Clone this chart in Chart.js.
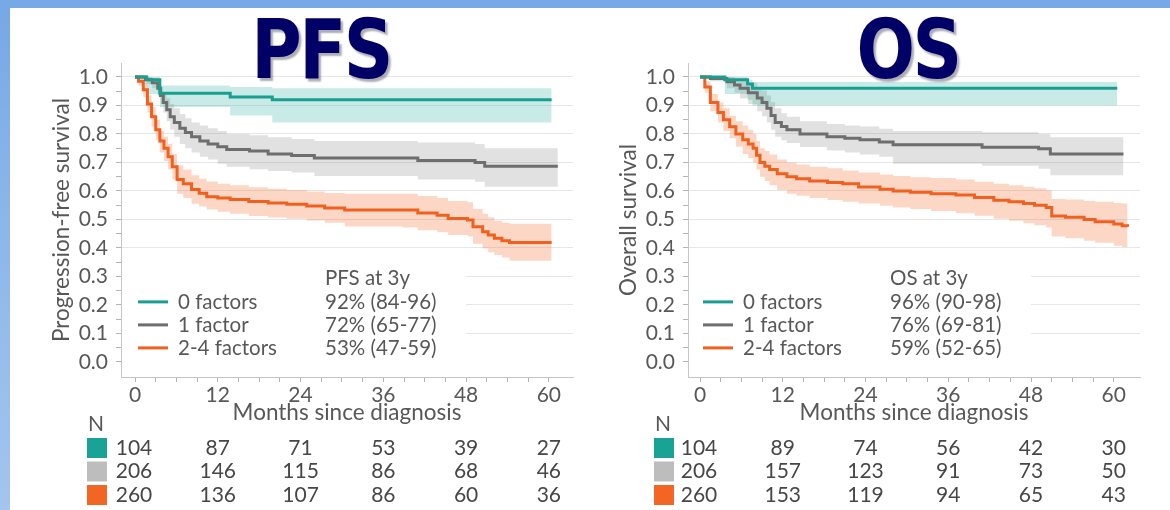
<!DOCTYPE html>
<html>
<head>
<meta charset="utf-8">
<script src="https://cdn.jsdelivr.net/npm/chart.js@4.4.1/dist/chart.umd.min.js"></script>
<style>
  html, body { margin: 0; padding: 0; }
  body {
    width: 1170px; height: 510px; overflow: hidden; position: relative;
    background: linear-gradient(180deg, #76a8e6 0%, #8cb7ea 45%, #a3c5ee 100%);
  }
  .sheet { position: absolute; left: 10px; top: 8px; width: 1160px; height: 502px; background: #fff; }
  canvas { position: absolute; top: 8px; }
  #pfsChart { left: 10px; }
  #osChart { left: 577px; }
  .big {
    position: absolute; top: 9px; width: 300px; text-align: center;
    font-family: "DejaVu Sans", sans-serif; font-weight: bold; font-size: 82px; line-height: 82px;
    letter-spacing: -3px;
    color: #000066; text-shadow: 3px 3px 2px rgba(70, 70, 90, 0.45);
    transform: scaleX(0.84); z-index: 2;
  }
  #pfsTitle { left: 171px; }
  #osTitle { left: 758px; }
</style>
</head>
<body>
<div class="sheet"></div>
<canvas id="pfsChart" width="567" height="502"></canvas>
<canvas id="osChart" width="567" height="502"></canvas>
<div class="big" id="pfsTitle">PFS</div>
<div class="big" id="osTitle">OS</div>
<script>
// ---- categories / labels ----
const groupNames = ['0 factors', '1 factor', '2-4 factors'];
const yMajor = [0.0, 0.1, 0.2, 0.3, 0.4, 0.5, 0.6, 0.7, 0.8, 0.9, 1.0];
const xMajor = [0, 12, 24, 36, 48, 60];
const riskTimes = [0, 12, 24, 36, 48, 60];

// ---- PFS curves (time in months, survival, 95% CI) ----
const pfs0Time = [0, 1.7, 3.6, 13.8, 19.9, 60.4];
const pfs0Surv = [1.0, 0.99, 0.943, 0.93, 0.92, 0.92];
const pfs0Low  = [1.0, 0.94, 0.895, 0.865, 0.84, 0.84];
const pfs0High = [1.0, 1.0, 0.97, 0.965, 0.96, 0.96];

const pfs1Time = [0, 1.5, 2.5, 3.3, 3.7, 4.1, 4.6, 5.1, 5.7, 6.5, 7.3, 8.2, 9.4, 10.6, 12.0, 13.3, 16.6, 19.3, 22.7, 26.0, 41.0, 49.3, 50.7, 61.3];
const pfs1Surv = [1.0, 0.99, 0.98, 0.96, 0.935, 0.91, 0.885, 0.86, 0.84, 0.82, 0.805, 0.79, 0.775, 0.765, 0.755, 0.745, 0.74, 0.73, 0.724, 0.716, 0.707, 0.70, 0.687, 0.687];
const pfs1Low  = [1.0, 0.975, 0.96, 0.935, 0.905, 0.875, 0.845, 0.815, 0.79, 0.765, 0.75, 0.735, 0.72, 0.71, 0.695, 0.685, 0.676, 0.67, 0.665, 0.652, 0.64, 0.632, 0.615, 0.615];
const pfs1High = [1.0, 1.0, 0.995, 0.985, 0.965, 0.945, 0.925, 0.905, 0.89, 0.87, 0.855, 0.84, 0.83, 0.82, 0.81, 0.80, 0.795, 0.788, 0.782, 0.775, 0.77, 0.765, 0.75, 0.75];

const pfs2Time = [0, 0.5, 1.2, 1.8, 2.4, 3.0, 3.6, 4.2, 4.8, 5.4, 6.1, 7.0, 8.2, 9.3, 10.4, 12.0, 13.8, 16.5, 19.3, 22.0, 24.9, 27.5, 30.4, 38.8, 41.0, 43.8, 45.4, 48.2, 49.0, 50.4, 51.2, 52.1, 53.2, 54.3, 60.4];
const pfs2Surv = [1.0, 0.985, 0.955, 0.905, 0.86, 0.815, 0.775, 0.75, 0.72, 0.685, 0.64, 0.625, 0.605, 0.592, 0.58, 0.575, 0.57, 0.563, 0.558, 0.553, 0.547, 0.54, 0.533, 0.533, 0.523, 0.515, 0.503, 0.498, 0.474, 0.457, 0.445, 0.434, 0.425, 0.419, 0.419];
const pfs2Low  = [1.0, 0.97, 0.93, 0.875, 0.825, 0.78, 0.735, 0.705, 0.675, 0.64, 0.59, 0.575, 0.555, 0.545, 0.535, 0.527, 0.52, 0.512, 0.507, 0.502, 0.496, 0.488, 0.475, 0.472, 0.462, 0.455, 0.445, 0.44, 0.415, 0.398, 0.385, 0.375, 0.366, 0.355, 0.352];
const pfs2High = [1.0, 1.0, 0.98, 0.935, 0.895, 0.85, 0.81, 0.79, 0.765, 0.73, 0.69, 0.675, 0.655, 0.643, 0.633, 0.625, 0.62, 0.613, 0.608, 0.603, 0.598, 0.593, 0.59, 0.59, 0.582, 0.575, 0.565, 0.56, 0.537, 0.52, 0.508, 0.495, 0.488, 0.485, 0.485];

// ---- OS curves ----
const os0Time = [0, 3.6, 6.9, 7.6, 60.5];
const os0Surv = [1.0, 0.99, 0.975, 0.96, 0.96];
const os0Low  = [1.0, 0.94, 0.92, 0.90, 0.90];
const os0High = [1.0, 1.0, 0.99, 0.982, 0.982];

const os1Time = [0, 1.5, 3.9, 5.0, 5.8, 7.0, 8.3, 9.0, 9.7, 10.3, 10.9, 11.8, 12.6, 14.5, 18.4, 21.0, 23.2, 26.0, 28.0, 40.9, 49.1, 50.8, 61.4];
const os1Surv = [1.0, 0.995, 0.983, 0.972, 0.96, 0.945, 0.926, 0.91, 0.89, 0.865, 0.84, 0.826, 0.815, 0.80, 0.79, 0.785, 0.78, 0.772, 0.762, 0.753, 0.748, 0.73, 0.73];
const os1Low  = [1.0, 0.985, 0.96, 0.945, 0.925, 0.905, 0.88, 0.862, 0.84, 0.815, 0.79, 0.778, 0.768, 0.754, 0.742, 0.735, 0.728, 0.72, 0.695, 0.688, 0.678, 0.655, 0.655];
const os1High = [1.0, 1.0, 1.0, 0.995, 0.99, 0.98, 0.965, 0.952, 0.935, 0.912, 0.89, 0.873, 0.86, 0.845, 0.835, 0.83, 0.826, 0.818, 0.81, 0.806, 0.80, 0.788, 0.788];

const os2Time = [0, 0.7, 1.5, 2.6, 3.4, 4.3, 5.2, 6.2, 7.0, 7.7, 8.2, 8.7, 9.4, 10.1, 11.2, 12.6, 14.0, 15.9, 18.5, 20.7, 23.0, 26.1, 28.0, 30.5, 33.5, 37.1, 39.8, 42.6, 44.8, 46.9, 48.5, 50.2, 51.0, 53.0, 55.7, 57.3, 60.0, 61.2, 62.0];
const os2Surv = [1.0, 0.965, 0.91, 0.875, 0.85, 0.825, 0.80, 0.78, 0.765, 0.75, 0.725, 0.70, 0.687, 0.675, 0.66, 0.65, 0.643, 0.635, 0.63, 0.625, 0.614, 0.606, 0.60, 0.595, 0.59, 0.586, 0.577, 0.567, 0.562, 0.556, 0.55, 0.542, 0.512, 0.508, 0.50, 0.492, 0.484, 0.478, 0.474];
const os2Low  = [1.0, 0.945, 0.88, 0.84, 0.81, 0.785, 0.755, 0.73, 0.715, 0.70, 0.675, 0.65, 0.635, 0.62, 0.603, 0.59, 0.583, 0.575, 0.568, 0.562, 0.556, 0.548, 0.542, 0.537, 0.53, 0.522, 0.513, 0.502, 0.495, 0.487, 0.48, 0.472, 0.44, 0.434, 0.425, 0.418, 0.408, 0.403, 0.40];
const os2High = [1.0, 0.985, 0.94, 0.91, 0.89, 0.865, 0.845, 0.83, 0.815, 0.80, 0.775, 0.75, 0.74, 0.728, 0.71, 0.70, 0.693, 0.685, 0.68, 0.672, 0.665, 0.658, 0.652, 0.648, 0.645, 0.64, 0.632, 0.625, 0.62, 0.615, 0.609, 0.602, 0.572, 0.57, 0.565, 0.562, 0.558, 0.556, 0.555];

// ---- 3-year estimates and numbers at risk ----
const pfsAt3y = ['92% (84-96)', '72% (65-77)', '53% (47-59)'];
const osAt3y  = ['96% (90-98)', '76% (69-81)', '59% (52-65)'];
const pfsRisk0 = [104, 87, 71, 53, 39, 27];
const pfsRisk1 = [206, 146, 115, 86, 68, 46];
const pfsRisk2 = [260, 136, 107, 86, 60, 36];
const osRisk0 = [104, 89, 74, 56, 42, 30];
const osRisk1 = [206, 157, 123, 91, 73, 50];
const osRisk2 = [260, 153, 119, 94, 65, 43];

const lineColors = ['#1a9e8f', '#6e6e6e', '#f0601e'];
const bandColors = ['rgba(28,172,158,0.24)', 'rgba(120,120,120,0.22)', 'rgba(244,112,52,0.28)'];
const boxColors = ['#19a396', '#bdbdbd', '#f26522'];
const textColor = '#585858';
const fontFamily = 'Lato, "Open Sans", sans-serif';

// minor ticks every 0.05 on y and every 3 months on x
const yTickValues = [];
for (let i = 0; i <= 20; i++) yTickValues.push(Math.round(i * 5) / 100);
const xTickValues = [];
for (let m = 0; m <= 60; m += 3) xTickValues.push(m);

const isMajorY = v => yMajor.some(m => Math.abs(m - v) < 1e-6);

function pts(t, v) {
    return t.map((x, i) => ({ x: x, y: v[i] }));
}

// legend block, white backdrop and numbers-at-risk table
const panelExtras = {
    id: 'panelExtras',
    beforeDatasetsDraw(chart, args, opts) {
        const { ctx, chartArea, scales: { x, y } } = chart;
        const top = y.getPixelForValue(0.35);
        const right = x.getPixelForValue(0) + 331;
        ctx.save();
        ctx.fillStyle = '#fff';
        ctx.fillRect(chartArea.left + 1, top, right - chartArea.left - 1, chartArea.bottom - top - 1);
        ctx.restore();
    },
    afterDraw(chart, args, opts) {
        const { ctx, chartArea, scales: { x, y } } = chart;
        const x0 = x.getPixelForValue(0);
        const base = y.getPixelForValue(0);
        ctx.save();
        ctx.font = '20.5px ' + fontFamily;
        ctx.fillStyle = textColor;
        ctx.textBaseline = 'middle';
        ctx.textAlign = 'left';
        ctx.fillText(opts.header, x0 + 190, base - 84);
        groupNames.forEach((name, g) => {
            const rowY = base - 60 + g * 23;
            ctx.strokeStyle = lineColors[g];
            ctx.lineWidth = 3;
            ctx.beginPath();
            ctx.moveTo(x0 + 3, rowY);
            ctx.lineTo(x0 + 33, rowY);
            ctx.stroke();
            ctx.fillText(name, x0 + 43, rowY);
            ctx.fillText(opts.notes[g], x0 + 190, rowY);
        });

        // numbers at risk
        const left = chartArea.left;
        ctx.font = '21px ' + fontFamily;
        ctx.fillText('N', left - 33, 416);
        ctx.textAlign = 'center';
        opts.risk.forEach((row, g) => {
            const rowY = 440 + g * 23.5;
            ctx.fillStyle = boxColors[g];
            ctx.fillRect(left - 34, rowY - 10, 20, 20);
            ctx.fillStyle = '#474747';
            row.forEach((n, i) => {
                const shift = i === 0 ? -1 : 0;
                ctx.fillText(String(n), x.getPixelForValue(riskTimes[i]) + shift, rowY);
            });
        });
        ctx.restore();
    }
};

function drawPanel(id, yTitle, curves, xMin, xMax, header, notes, risk) {
    const datasets = [];
    curves.forEach((c, g) => {
        datasets.push({
            data: pts(c.t, c.s), borderColor: lineColors[g], borderWidth: 3,
            stepped: true, pointRadius: 0, fill: false
        });
    });
    curves.forEach((c, g) => {
        const upperIdx = datasets.length;
        datasets.push({
            data: pts(c.t, c.hi), borderColor: 'rgba(0,0,0,0)', borderWidth: 0,
            stepped: true, pointRadius: 0, fill: false
        });
        datasets.push({
            data: pts(c.t, c.lo), borderColor: 'rgba(0,0,0,0)', borderWidth: 0,
            stepped: true, pointRadius: 0, fill: upperIdx, backgroundColor: bandColors[g]
        });
    });

    return new Chart(document.getElementById(id), {
        type: 'line',
        data: { datasets: datasets },
        plugins: [panelExtras],
        options: {
            responsive: false,
            animation: false,
            devicePixelRatio: 1,
            layout: { padding: { left: 38, right: 4, top: 55, bottom: 86 } },
            plugins: {
                legend: { display: false },
                tooltip: { enabled: false },
                panelExtras: { header: header, notes: notes, risk: risk }
            },
            scales: {
                x: {
                    type: 'linear', min: xMin, max: xMax,
                    afterBuildTicks: s => { s.ticks = xTickValues.map(v => ({ value: v })); },
                    afterFit: s => { s.height = 47; },
                    ticks: {
                        autoSkip: false, maxRotation: 0, padding: 3, color: textColor,
                        font: { family: fontFamily, size: 21, lineHeight: 1 },
                        callback: v => xMajor.includes(v) ? String(v) : ''
                    },
                    grid: { drawOnChartArea: false, drawTicks: true, tickLength: 5, tickColor: '#b4b4b4' },
                    border: { color: '#c6c6c6' },
                    title: {
                        display: true, text: 'Months since diagnosis', color: textColor, padding: 0,
                        font: { family: fontFamily, size: 22.5, lineHeight: 1 }
                    }
                },
                y: {
                    min: -0.053, max: 1.049,
                    afterBuildTicks: s => { s.ticks = yTickValues.map(v => ({ value: v })); },
                    afterFit: s => { s.width = 73; },
                    ticks: {
                        autoSkip: false, padding: 8, color: textColor,
                        font: { family: fontFamily, size: 21, lineHeight: 1 },
                        callback: v => isMajorY(v) ? v.toFixed(1) : ''
                    },
                    grid: {
                        color: c => {
                            const v = c.tick ? c.tick.value : 0;
                            return (isMajorY(v) && v > 0.01) ? '#e6e6e6' : 'rgba(0,0,0,0)';
                        },
                        tickLength: 5, tickColor: '#b4b4b4'
                    },
                    border: { color: '#c6c6c6' },
                    title: {
                        display: true, text: yTitle, color: textColor, padding: { top: 2 },
                        font: { family: fontFamily, size: 22.5, lineHeight: 1 }
                    }
                }
            }
        }
    });
}

drawPanel('pfsChart', 'Progression-free survival', [
    { t: pfs0Time, s: pfs0Surv, lo: pfs0Low, hi: pfs0High },
    { t: pfs1Time, s: pfs1Surv, lo: pfs1Low, hi: pfs1High },
    { t: pfs2Time, s: pfs2Surv, lo: pfs2Low, hi: pfs2High }
], -2.03, 63.5, 'PFS at 3y', pfsAt3y, [pfsRisk0, pfsRisk1, pfsRisk2]);

drawPanel('osChart', 'Overall survival', [
    { t: os0Time, s: os0Surv, lo: os0Low, hi: os0High },
    { t: os1Time, s: os1Surv, lo: os1Low, hi: os1High },
    { t: os2Time, s: os2Surv, lo: os2Low, hi: os2High }
], -1.74, 63.8, 'OS at 3y', osAt3y, [osRisk0, osRisk1, osRisk2]);
</script>
</body>
</html>
